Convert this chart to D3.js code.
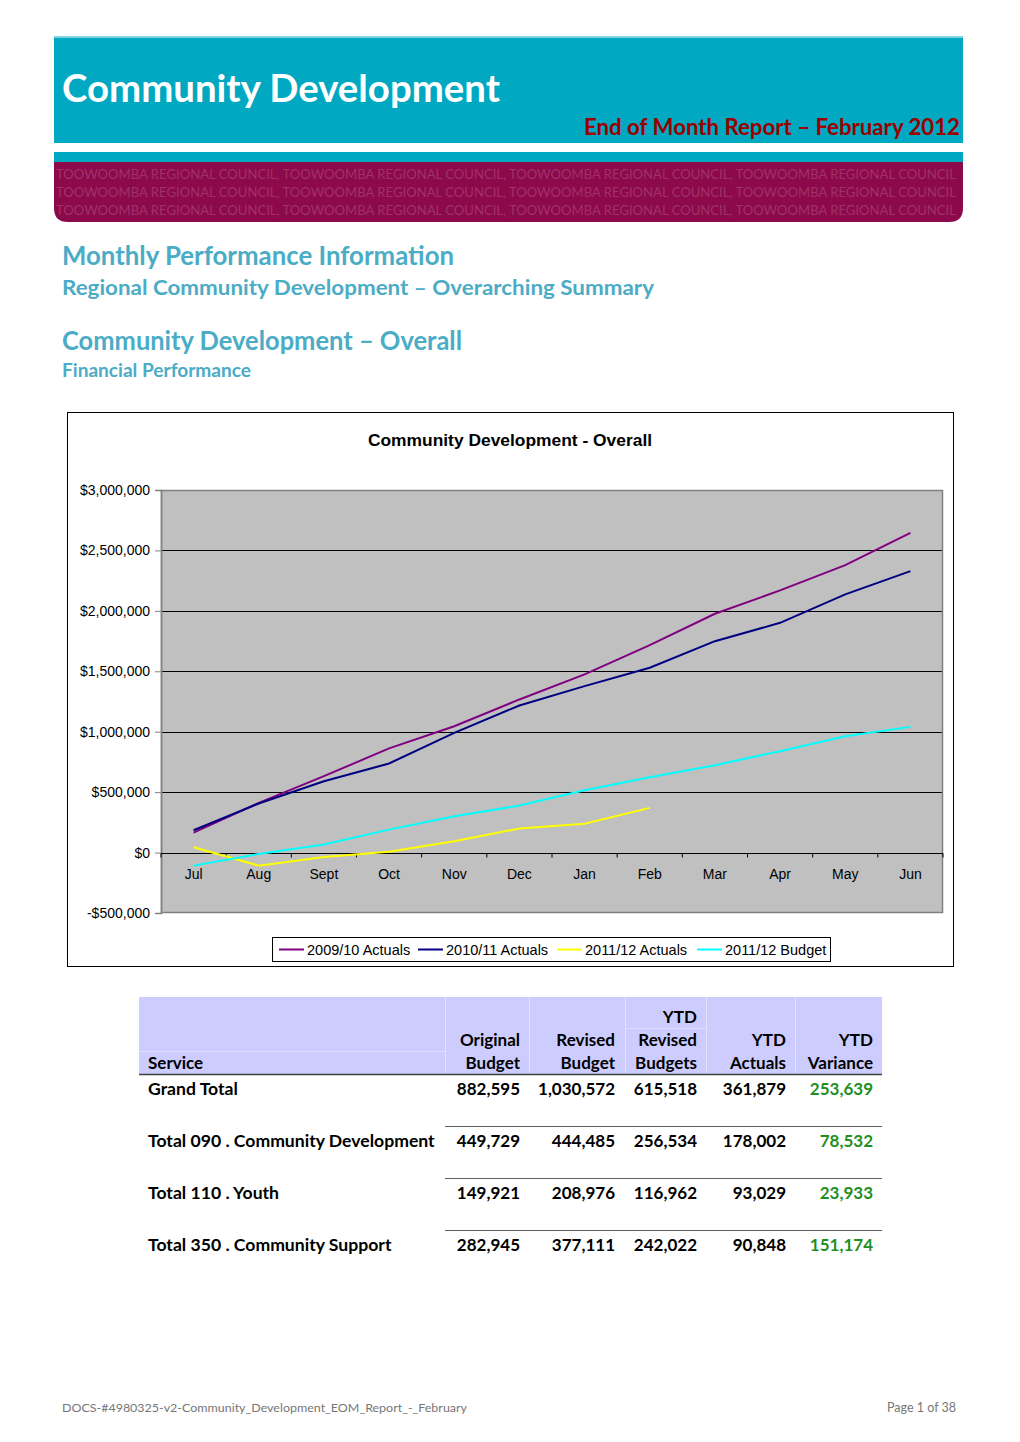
<!DOCTYPE html>
<html><head><meta charset="utf-8">
<script src="https://cdn.jsdelivr.net/npm/d3@7"></script>
<style>
html,body{margin:0;padding:0;background:#fff;}
svg{display:block;}
</style></head>
<body>
<svg id="page" width="1020" height="1442"></svg>
<script>
// ---------- DATA ----------
const months = ["Jul","Aug","Sept","Oct","Nov","Dec","Jan","Feb","Mar","Apr","May","Jun"];
const actuals0910 = [165000,411000,632000,862000,1045000,1267000,1474000,1716000,1976000,2169000,2378000,2646000];
const actuals1011 = [185000,406000,590000,737000,991000,1217000,1377000,1529000,1749000,1901000,2136000,2329000];
const actuals1112 = [44000,-108000,-36000,6000,94000,199000,238000,370000];
const budget1112  = [-108000,-11000,66000,190000,300000,389000,516000,623000,723000,839000,963000,1040000];
const seriesNames = ["2009/10 Actuals","2010/11 Actuals","2011/12 Actuals","2011/12 Budget"];
const seriesColors = ["#800080","#000080","#ffff00","#00ffff"];
const yTicks = [-500000,0,500000,1000000,1500000,2000000,2500000,3000000];

const tableHeaders = [["","","Service"],["","Original","Budget"],["","Revised","Budget"],["YTD","Revised","Budgets"],["","YTD","Actuals"],["","YTD","Variance"]];
const services = ["Grand Total","Total 090 . Community Development","Total 110 . Youth","Total 350 . Community Support"];
const originalBudget = ["882,595","449,729","149,921","282,945"];
const revisedBudget = ["1,030,572","444,485","208,976","377,111"];
const ytdRevised = ["615,518","256,534","116,962","242,022"];
const ytdActuals = ["361,879","178,002","93,029","90,848"];
const ytdVariance = ["253,639","78,532","23,933","151,174"];

// ---------- DRAW ----------
const svg = d3.select("#page");
const CAL = "Lato, 'Open Sans', sans-serif";
const ARIAL = "'Liberation Sans', Arial, sans-serif";

// header banner
svg.append("rect").attr("x",54).attr("y",36).attr("width",909).attr("height",107).attr("fill","#00a9c1");
svg.append("rect").attr("x",54).attr("y",36).attr("width",909).attr("height",2).attr("fill","#7fd6e2");
svg.append("text").attr("x",62).attr("y",102).attr("fill","#fff")
  .attr("font-family",CAL).attr("font-weight","bold").attr("font-size",38)
  .attr("textLength",438).attr("lengthAdjust","spacingAndGlyphs").text("Community Development");
svg.append("text").attr("x",584).attr("y",135).attr("fill","#990000")
  .attr("font-family",CAL).attr("font-weight","bold").attr("font-size",22)
  .attr("textLength",376).attr("lengthAdjust","spacingAndGlyphs").text("End of Month Report – February 2012");

// second band
svg.append("rect").attr("x",54).attr("y",152).attr("width",909).attr("height",12).attr("fill","#00a9c1");
const bandPath = d3.path();
bandPath.moveTo(54,162); bandPath.lineTo(963,162); bandPath.lineTo(963,208);
bandPath.quadraticCurveTo(963,222,949,222); bandPath.lineTo(68,222);
bandPath.quadraticCurveTo(54,222,54,208); bandPath.closePath();
svg.append("path").attr("d",bandPath.toString()).attr("fill","#8c0a4b");
const patternText = "TOOWOOMBA REGIONAL COUNCIL, TOOWOOMBA REGIONAL COUNCIL, TOOWOOMBA REGIONAL COUNCIL, TOOWOOMBA REGIONAL COUNCIL";
[179,197,215].forEach(y=>{
  svg.append("text").attr("x",56).attr("y",y).attr("fill","#a0306a")
    .attr("font-family",CAL).attr("font-size",14)
    .attr("textLength",900).attr("lengthAdjust","spacingAndGlyphs").text(patternText);
});

// headings
const teal = "#4bacc6";
const headings = [
  {t:"Monthly Performance Information", y:265, s:26, w:392},
  {t:"Regional Community Development – Overarching Summary", y:295, s:21, w:592},
  {t:"Community Development – Overall", y:350, s:26, w:400},
  {t:"Financial Performance", y:377, s:18, w:189}
];
headings.forEach(h=>{
  svg.append("text").attr("x",62).attr("y",h.y).attr("fill",teal)
    .attr("font-family",CAL).attr("font-weight","bold").attr("font-size",h.s)
    .attr("textLength",h.w).attr("lengthAdjust","spacingAndGlyphs").text(h.t);
});

// chart frame
svg.append("rect").attr("x",67.5).attr("y",412.5).attr("width",886).attr("height",554)
  .attr("fill","#fff").attr("stroke","#000").attr("stroke-width",1);
svg.append("text").attr("x",510).attr("y",446).attr("text-anchor","middle")
  .attr("font-family",ARIAL).attr("font-weight","bold").attr("font-size",17.4).attr("fill","#000")
  .text("Community Development - Overall");

const plot = {l:161, r:943, t:490, b:913};
const x = d3.scaleBand().domain(months).range([plot.l, plot.r]);
const y = d3.scaleLinear().domain([-500000,3000000]).range([plot.b, plot.t]);

svg.append("rect").attr("x",plot.l).attr("y",plot.t).attr("width",plot.r-plot.l).attr("height",plot.b-plot.t)
  .attr("fill","#c0c0c0");
// gridlines
svg.append("g").selectAll("line").data(yTicks.filter(d=>d!==-500000 && d!==0)).join("line")
  .attr("x1",plot.l).attr("x2",plot.r).attr("y1",d=>Math.round(y(d))+0.5).attr("y2",d=>Math.round(y(d))+0.5)
  .attr("stroke","#000").attr("stroke-width",1);
svg.append("rect").attr("x",plot.l+0.5).attr("y",plot.t+0.5).attr("width",plot.r-plot.l-1).attr("height",plot.b-plot.t-1)
  .attr("fill","none").attr("stroke","#808080").attr("stroke-width",1.5);

// y axis
const yAxis = d3.axisLeft(y).tickValues(yTicks).tickSize(6).tickPadding(5)
  .tickFormat(d=> (d<0?"-$":"$") + d3.format(",")(Math.abs(d)));
const ya = svg.append("g").attr("transform",`translate(${plot.l},0)`).call(yAxis);
ya.select(".domain").attr("stroke","#808080").attr("stroke-width",1.5);
ya.selectAll(".tick line").attr("stroke","#808080");
ya.selectAll("text").attr("font-family",ARIAL).attr("font-size",14).attr("fill","#000");

// x axis at zero
const y0 = Math.round(y(0))+0.5;
svg.append("line").attr("x1",plot.l).attr("x2",plot.r).attr("y1",y0).attr("y2",y0).attr("stroke","#000").attr("stroke-width",1);
const bounds = months.map(m=>x(m)).concat([plot.r]);
svg.append("g").selectAll("line").data(bounds).join("line")
  .attr("x1",d=>d).attr("x2",d=>d).attr("y1",y0).attr("y2",y0+4).attr("stroke","#000");
svg.append("g").selectAll("text").data(months).join("text")
  .attr("x",d=>x(d)+x.bandwidth()/2).attr("y",y0+25).attr("text-anchor","middle")
  .attr("font-family",ARIAL).attr("font-size",14).attr("fill","#000").text(d=>d);

// lines
const allSeries = [actuals0910, actuals1011, actuals1112, budget1112];
const line = d3.line().x((d,i)=>x(months[i])+x.bandwidth()/2).y(d=>y(d));
allSeries.forEach((s,i)=>{
  svg.append("path").datum(s).attr("d",line).attr("fill","none")
    .attr("stroke",seriesColors[i]).attr("stroke-width",2);
});

// legend
svg.append("rect").attr("x",272.5).attr("y",937.5).attr("width",558).attr("height",24)
  .attr("fill","#fff").attr("stroke","#000").attr("stroke-width",1);
const legX = [279,418,557,697];
seriesNames.forEach((n,i)=>{
  svg.append("line").attr("x1",legX[i]).attr("x2",legX[i]+25).attr("y1",949.5).attr("y2",949.5)
    .attr("stroke",seriesColors[i]).attr("stroke-width",2);
  svg.append("text").attr("x",legX[i]+28).attr("y",954.5).attr("font-family",ARIAL).attr("font-size",14.5)
    .attr("fill","#000").text(n);
});

// ---------- TABLE ----------
svg.append("rect").attr("x",139).attr("y",997).attr("width",743).attr("height",77).attr("fill","#ccccff");
const colSep = [445,529,625,706,795];
colSep.forEach(cx=>{
  svg.append("line").attr("x1",cx+0.5).attr("x2",cx+0.5).attr("y1",997).attr("y2",1073)
    .attr("stroke","#e4e4ff").attr("stroke-width",1);
});
[1051,1028].forEach((ly,k)=>{
  svg.append("line").attr("x1",k?625:139).attr("x2",k?706:445).attr("y1",ly+0.5).attr("y2",ly+0.5)
    .attr("stroke","#dcdcff").attr("stroke-width",1);
});
svg.append("line").attr("x1",139).attr("x2",882).attr("y1",1074.5).attr("y2",1074.5).attr("stroke","#404040").attr("stroke-width",1.5);

const colRight = [148,520,615,697,786,873];
const headRows = [1023,1046,1069];
tableHeaders.forEach((h,ci)=>{
  h.forEach((t,ri)=>{
    if(!t) return;
    svg.append("text").attr("x",colRight[ci]).attr("y",headRows[ri])
      .attr("text-anchor",ci===0?"start":"end")
      .attr("font-family",CAL).attr("font-weight","bold").attr("font-size",17).attr("fill","#000").text(t);
  });
});
const rowY = [1095,1147,1199,1251];
const cols = [services, originalBudget, revisedBudget, ytdRevised, ytdActuals, ytdVariance];
cols.forEach((col,ci)=>{
  col.forEach((t,ri)=>{
    const tx = svg.append("text").attr("x",colRight[ci]).attr("y",rowY[ri])
      .attr("text-anchor",ci===0?"start":"end")
      .attr("font-family",CAL).attr("font-weight","bold").attr("font-size",17)
      .attr("fill",ci===5?"#1f8f1f":"#000").text(t);
    if(ci===0) tx.attr("font-size",17.6);
  });
});
[1126,1178,1230].forEach(ly=>{
  svg.append("line").attr("x1",445).attr("x2",882).attr("y1",ly+0.5).attr("y2",ly+0.5).attr("stroke","#606060").attr("stroke-width",1);
});

// footer
svg.append("text").attr("x",62).attr("y",1412).attr("font-family",CAL).attr("font-size",11).attr("fill","#777")
  .attr("textLength",405).attr("lengthAdjust","spacingAndGlyphs")
  .text("DOCS-#4980325-v2-Community_Development_EOM_Report_-_February");
svg.append("text").attr("x",956).attr("y",1412).attr("text-anchor","end").attr("font-family",CAL).attr("font-size",12.5).attr("fill","#777")
  .text("Page 1 of 38");
</script>
</body></html>
